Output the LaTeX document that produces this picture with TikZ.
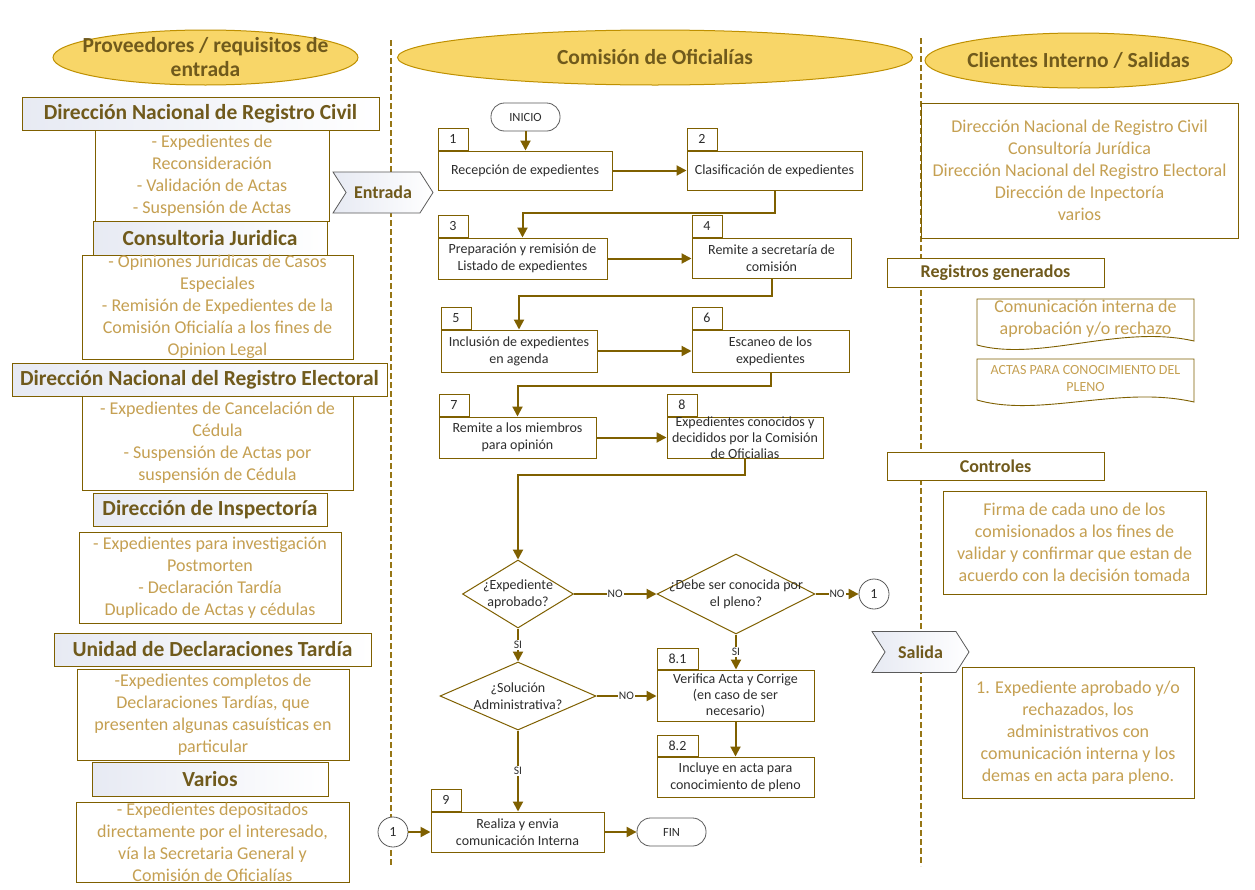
\documentclass[tikz,border=0pt]{standalone}
\usepackage{fontspec}
\setmainfont{Carlito}
\usetikzlibrary{arrows.meta,shapes.geometric,shapes.symbols,positioning}

\definecolor{lineol}{RGB}{127,96,0}
\definecolor{lanefill}{RGB}{248,214,104}
\definecolor{laneline}{RGB}{191,144,0}
\definecolor{lanesep}{RGB}{150,118,22}
\definecolor{headtxt}{RGB}{112,90,28}
\definecolor{bodytxt}{RGB}{197,160,82}
\definecolor{steptxt}{RGB}{45,45,45}
\definecolor{headshade}{RGB}{231,234,243}
\definecolor{termline}{RGB}{90,90,90}

\begin{document}
\begin{tikzpicture}[x=1pt,y=-1pt,
  lane/.style={ellipse,draw=laneline,fill=lanefill,line width=1pt,minimum height=55pt},
  lanetxt/.style={font=\fontsize{21.5}{24}\selectfont\bfseries,text=headtxt,align=center},
  head/.style={draw=lineol,line width=0.9pt,left color=headshade,middle color=white,right color=white,
    font=\fontsize{21.5}{24}\selectfont\bfseries,text=headtxt,inner sep=0pt},
  subhead/.style={draw=lineol,line width=0.9pt,fill=white,font=\fontsize{18}{20}\selectfont\bfseries,text=headtxt,inner sep=0pt},
  body/.style={draw=lineol,line width=0.9pt,fill=white,font=\fontsize{18}{22}\selectfont,text=bodytxt,align=center,inner sep=0pt},
  chev/.style={signal,signal from=west,signal to=east,signal pointer angle=115,draw=termline,line width=0.8pt,
    left color=headshade,middle color=white,right color=white,minimum height=41pt,inner sep=0pt,
    font=\fontsize{18}{20}\selectfont\bfseries,text=headtxt},
  stepbox/.style={draw=lineol,line width=1pt,fill=white,font=\fontsize{14}{17}\selectfont,text=steptxt,align=center,inner sep=0pt},
  tabbox/.style={draw=lineol,line width=1pt,fill=white,font=\fontsize{14}{16}\selectfont,text=steptxt,
    minimum width=30pt,minimum height=22pt,anchor=south west,inner sep=0pt},
  term/.style={rectangle,rounded corners=13.5pt,draw=termline,line width=0.8pt,fill=white,minimum width=69pt,minimum height=28pt,
    font=\fontsize{12.5}{14}\selectfont,text=steptxt,inner sep=0pt},
  dia/.style={diamond,draw=lineol,line width=1pt,fill=white,inner sep=0pt},
  dtxt/.style={font=\fontsize{14}{17}\selectfont,text=steptxt,align=center},
  conn/.style={circle,draw=termline,line width=0.8pt,fill=white,minimum size=30pt,font=\fontsize{14}{16}\selectfont,text=steptxt,inner sep=0pt},
  lbl/.style={fill=white,inner sep=1pt,font=\fontsize{11.5}{13}\selectfont,text=steptxt},
  flow/.style={draw=lineol,line width=2pt,-{Triangle[length=10pt,width=10pt]}},
  docline/.style={draw=lineol,line width=0.9pt,fill=white},
  sep/.style={draw=lanesep,line width=1.5pt,dash pattern=on 6pt off 3pt}]

\fill[white] (0,0) rectangle (1255,889);
\useasboundingbox (0,0) rectangle (1255,889);

% swimlane separators
\draw[sep] (391,40) -- (391,866);
\draw[sep] (921,38) -- (921,866);

% lane titles
\node[lane,minimum width=305pt,label={[lanetxt]center:{Proveedores / requisitos de\\entrada}}] (prov) at (205.5,57.5) {};
\node[lane,minimum width=515pt,label={[lanetxt]center:{Comisión de Oficialías}}] (com) at (655,57.5) {};
\node[lane,minimum width=307pt,label={[lanetxt]center:{Clientes Interno / Salidas}}] (cli) at (1078.5,60.5) {};

% suppliers / inputs
\node[head,minimum width=357pt,minimum height=33pt] (rc) at (200.5,113.5) {Dirección Nacional de Registro Civil};
\node[body,minimum width=234pt,minimum height=91pt] (rcin) at (212,175.5) {- Expedientes de\\Reconsideración\\- Validación de Actas\\- Suspensión de Actas};
\node[head,minimum width=234pt,minimum height=34pt] (cj) at (210,238) {Consultoria Juridica};
\node[body,minimum width=271pt,minimum height=104pt] (cjin) at (217.5,307) {- Opiniones Juridicas de Casos\\Especiales\\- Remisión de Expedientes de la\\Comisión Oficialía a los fines de\\Opinion Legal};
\node[head,minimum width=375pt,minimum height=33pt] (re) at (199.5,379.5) {Dirección Nacional del Registro Electoral};
\node[body,minimum width=271pt,minimum height=94pt] (rein) at (217.5,443) {- Expedientes de Cancelación de\\Cédula\\- Suspensión de Actas por\\suspensión de Cédula};
\node[head,minimum width=234pt,minimum height=33pt] (di) at (210,509.5) {Dirección de Inspectoría};
\node[body,minimum width=262pt,minimum height=91pt] (diin) at (210,577.5) {- Expedientes para investigación\\Postmorten\\- Declaración Tardía\\Duplicado de Actas y cédulas};
\node[head,minimum width=317pt,minimum height=33pt] (ud) at (212.5,649.5) {Unidad de Declaraciones Tardía};
\node[body,minimum width=272pt,minimum height=91pt] (udin) at (213,714.5) {-Expedientes completos de\\Declaraciones Tardías, que\\presenten algunas casuísticas en\\particular};
\node[head,minimum width=236pt,minimum height=34pt] (va) at (210,779) {Varios};
\node[body,minimum width=273pt,minimum height=80pt] (vain) at (212.5,842) {- Expedientes depositados\\directamente por el interesado,\\vía la Secretaria General y\\Comisión de Oficialías};
\node[chev,minimum width=100pt] (ent) at (383,192.5) {Entrada};

% process
\node[term] (ini) at (525.5,117) {INICIO};
\node[stepbox,minimum width=174pt,minimum height=39pt] (s1) at (525,170.5) {Recepción de expedientes};
\node[tabbox] (t1) at (s1.north west) {1};
\node[stepbox,minimum width=175pt,minimum height=39pt] (s2) at (774.5,170.5) {Clasificación de expedientes};
\node[tabbox] (t2) at (s2.north west) {2};
\node[stepbox,minimum width=169pt,minimum height=41pt] (s3) at (522.5,258.5) {Preparación y remisión de\\Listado de expedientes};
\node[tabbox] (t3) at (s3.north west) {3};
\node[stepbox,minimum width=159pt,minimum height=40pt] (s4) at (771.5,258) {Remite a secretaría de\\comisión};
\node[tabbox] (t4) at (s4.north west) {4};
\node[stepbox,minimum width=156pt,minimum height=42pt] (s5) at (519,351) {Inclusión de expedientes\\en agenda};
\node[tabbox] (t5) at (s5.north west) {5};
\node[stepbox,minimum width=157pt,minimum height=42pt] (s6) at (770.5,351) {Escaneo de los\\expedientes};
\node[tabbox] (t6) at (s6.north west) {6};
\node[stepbox,minimum width=157pt,minimum height=41pt] (s7) at (517.5,437.5) {Remite a los miembros\\para opinión};
\node[tabbox] (t7) at (s7.north west) {7};
\node[stepbox,minimum width=156pt,minimum height=41pt,
  label={[dtxt,font=\fontsize{14}{16}\selectfont]center:{Expedientes conocidos y\\decididos por la Comisión\\de Oficialias}}] (s8) at (745,437.5) {};
\node[tabbox] (t8) at (s8.north west) {8};

\node[dia,minimum width=111pt,minimum height=68pt,label={[dtxt]center:{¿Expediente\\aprobado?}}] (d1) at (518,594) {};
\node[dia,minimum width=158pt,minimum height=80pt,label={[dtxt]center:{¿Debe ser conocida por\\el pleno?}}] (d2) at (736,594) {};
\node[conn] (c1) at (874,594) {1};
\node[dia,minimum width=156pt,minimum height=68pt,label={[dtxt]center:{¿Solución\\Administrativa?}}] (d3) at (518,696) {};
\node[stepbox,minimum width=157pt,minimum height=51pt,font=\fontsize{14}{16}\selectfont] (s81) at (735.5,695.5) {Verifica Acta y Corrige\\(en caso de ser\\necesario)};
\node[tabbox,minimum width=41pt,minimum height=21pt] (t81) at (s81.north west) {8.1};
\node[stepbox,minimum width=157pt,minimum height=40pt] (s82) at (735.5,777) {Incluye en acta para\\conocimiento de pleno};
\node[tabbox,minimum width=41pt,minimum height=21pt] (t82) at (s82.north west) {8.2};
\node[stepbox,minimum width=173pt,minimum height=40pt] (s9) at (517.5,832) {Realiza y envia\\comunicación Interna};
\node[tabbox] (t9) at (s9.north west) {9};
\node[conn] (c2) at (393,832) {1};
\node[term] (fin) at (671.5,832) {FIN};

\draw[flow] (ini) -- (ini |- s1.north);
\draw[flow] (s1) -- (s2);
\draw[flow] (s2.south) -- ++(0,22) -| (s3.north);
\draw[flow] (s3.east) -- (s3.east -| s4.west);
\draw[flow] (s4.south) -- ++(0,17) -| (s5.north);
\draw[flow] (s5) -- (s6);
\draw[flow] (s6.south) -- ++(0,13) -| (s7.north);
\draw[flow] (s7) -- (s8);
\draw[flow] (s8.south) -- ++(0,16) -| (d1.north);
\draw[flow] (d1) -- node[lbl]{NO} (d2);
\draw[flow] (d2) -- node[lbl]{NO} (c1);
\draw[flow] (d2.south) -- node[lbl]{SI} (d2.south |- s81.north);
\draw[flow] (d1) -- node[lbl]{SI} (d3);
\draw[flow] (d3) -- node[lbl]{NO} (d3 -| s81.west);
\draw[flow] (d3.south) -- node[lbl]{SI} (d3.south |- s9.north);
\draw[flow] (s81) -- (s82);
\draw[flow] (c2) -- (s9);
\draw[flow] (s9) -- (fin);

% clients / outputs
\node[body,minimum width=317pt,minimum height=135pt] (clin) at (1079.5,170.5) {Dirección Nacional de Registro Civil\\Consultoría Jurídica\\Dirección Nacional del Registro Electoral\\Dirección de Inpectoría\\varios};
\node[subhead,minimum width=217pt,minimum height=29pt] (reg) at (995.5,272.5) {Registros generados};
\draw[docline] (977,345) -- (977,299) -- (1194,299) -- (1194,341) .. controls (1120,324) and (1040,362) .. (977,345) -- cycle;
\node[body,draw=none,fill=none] (doc1) at (1085.5,319) {Comunicación interna de\\aprobación y/o rechazo};
\draw[docline] (977,400) -- (977,359) -- (1194,359) -- (1194,402) .. controls (1120,385) and (1040,418) .. (977,400) -- cycle;
\node[body,draw=none,fill=none,font=\fontsize{14}{17}\selectfont] (doc2) at (1085.5,378.5) {ACTAS PARA CONOCIMIENTO DEL\\PLENO};
\node[subhead,minimum width=217pt,minimum height=28pt] (ctl) at (995.5,466) {Controles};
\node[body,minimum width=263pt,minimum height=103pt] (firma) at (1074.5,542.5) {Firma de cada uno de los\\comisionados a los fines de\\validar y confirmar que estan de\\acuerdo con la decisión tomada};
\node[chev,minimum width=97pt] (sal) at (920.5,652) {Salida};
\node[body,minimum width=232pt,minimum height=131pt] (out) at (1078,732.5) {1. Expediente aprobado y/o\\rechazados, los\\administrativos con\\comunicación interna y los\\demas en acta para pleno.};
\end{tikzpicture}
\end{document}
